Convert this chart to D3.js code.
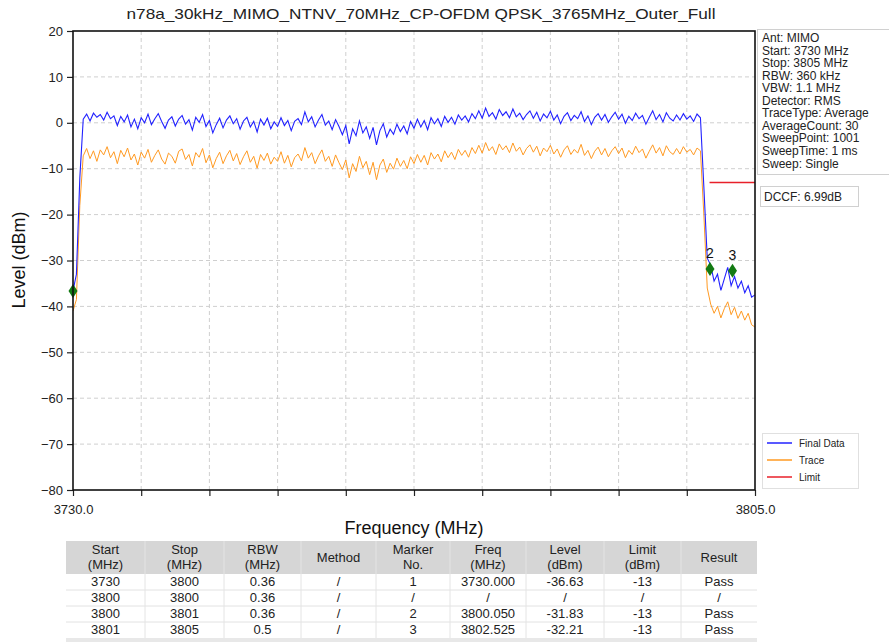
<!DOCTYPE html>
<html><head><meta charset="utf-8">
<script src="https://cdn.jsdelivr.net/npm/d3@7"></script>
<style>body{margin:0;background:#fff}svg{display:block;font-family:"Liberation Sans",Arial,sans-serif}</style>
</head><body><svg id="c" width="889" height="642"></svg>
<script>
const title = "n78a_30kHz_MIMO_NTNV_70MHz_CP-OFDM QPSK_3765MHz_Outer_Full";
const freqStart = 3730, freqStop = 3805, sweepPts = 201;
const yTicks = [20,10,0,-10,-20,-30,-40,-50,-60,-70,-80];
const xTickVals = [3730,3737.5,3745,3752.5,3760,3767.5,3775,3782.5,3790,3797.5,3805];
const xTickLabels = ["3730.0","","","","","","","","","","3805.0"];
const finalData = [-36.6,-33.0,-12.0,0.8,1.9,0.4,2.1,1.2,1.8,0.6,2.3,0.9,1.5,-0.6,1.4,0.2,1.7,-0.9,0.8,-1.3,
1.1,0.0,1.9,-0.4,0.9,2.0,0.3,-1.2,0.6,1.3,-0.7,0.8,1.6,-0.3,0.7,-1.6,1.2,0.1,1.8,-0.8,
0.5,-2.2,-0.4,1.0,-1.1,0.6,1.5,-0.2,0.9,-1.4,0.4,1.2,-0.9,0.3,-2.0,0.8,-0.5,1.0,-1.3,0.2,
-0.8,1.1,-0.6,0.5,-1.7,0.3,0.9,-0.4,2.4,0.2,1.3,-0.9,0.6,1.8,-0.5,0.4,-1.5,0.7,-0.8,-2.6,
-0.6,-4.6,-1.3,-2.8,0.4,-2.2,-0.9,-3.4,-1.0,-4.8,-1.7,-0.2,-3.1,-1.4,-2.5,-0.3,-1.9,-0.7,-2.4,0.3,
-1.2,0.8,-0.9,0.5,-1.5,1.1,-0.2,0.9,-0.8,1.4,0.1,1.2,-0.3,1.7,0.6,1.5,0.2,2.0,0.9,2.6,
1.0,3.2,1.4,2.2,0.8,2.9,1.6,2.4,1.1,3.0,1.3,2.1,0.7,1.8,2.6,1.0,2.3,0.4,1.9,1.1,
2.5,0.6,1.7,-0.2,1.4,2.2,0.5,1.6,0.9,2.4,0.3,1.5,-0.4,1.2,2.0,0.6,1.8,0.1,1.3,2.3,
0.8,1.9,-0.1,1.4,0.5,2.1,0.9,1.6,-0.3,1.2,2.6,0.7,1.8,0.2,2.2,1.0,0.4,1.7,0.6,2.0,
0.8,1.5,0.3,1.9,1.1,-14.0,-29.5,-31.0,-34.5,-33.0,-36.5,-34.0,-31.5,-35.5,-33.5,-36.0,-34.5,-37.0,-35.5,-38.0,
-37.5];
const traceData = [-41.0,-38.5,-18.0,-7.2,-5.6,-7.8,-6.1,-8.4,-5.9,-7.0,-5.2,-7.6,-6.3,-8.9,-6.0,-7.4,-5.5,-8.1,-6.8,-9.2,
-6.4,-7.7,-5.8,-8.6,-7.1,-5.9,-7.9,-9.0,-6.6,-7.3,-8.8,-6.2,-5.7,-8.0,-6.9,-9.4,-6.5,-7.5,-5.6,-8.7,
-7.0,-9.8,-7.8,-6.4,-8.9,-7.2,-6.0,-8.3,-6.7,-9.1,-7.4,-6.1,-8.6,-7.3,-9.9,-6.9,-8.2,-6.6,-9.0,-7.5,
-8.4,-6.3,-8.8,-7.1,-9.6,-7.6,-6.8,-8.3,-5.4,-7.7,-6.5,-8.9,-7.2,-5.9,-8.4,-7.3,-9.5,-7.0,-8.7,-10.2,
-8.1,-12.0,-8.9,-10.6,-7.3,-9.8,-8.4,-11.3,-8.6,-12.4,-9.2,-7.9,-10.8,-8.8,-10.1,-7.7,-9.5,-8.2,-10.0,-7.4,
-8.9,-6.9,-8.6,-7.1,-9.2,-6.5,-7.9,-6.8,-8.5,-6.1,-7.6,-6.4,-8.0,-5.8,-7.1,-6.0,-7.5,-5.4,-6.7,-4.9,
-6.6,-4.3,-6.1,-5.2,-6.9,-4.6,-5.9,-5.0,-6.5,-4.4,-6.2,-5.3,-7.0,-5.6,-4.8,-6.4,-5.1,-7.2,-5.5,-6.3,
-4.9,-6.8,-5.7,-7.5,-5.9,-5.0,-6.9,-5.8,-6.6,-4.7,-7.1,-6.0,-7.8,-6.2,-5.3,-7.0,-5.6,-7.4,-6.1,-5.2,
-6.7,-5.5,-7.6,-6.0,-6.9,-5.1,-6.5,-5.7,-7.7,-6.2,-4.8,-6.6,-5.4,-7.2,-5.0,-6.3,-6.9,-5.6,-6.8,-5.2,
-6.4,-5.8,-7.0,-5.5,-6.1,-20.0,-36.0,-39.5,-41.5,-40.0,-42.5,-40.5,-39.0,-41.8,-40.2,-42.6,-41.0,-43.0,-41.5,-44.0,
-44.5];
const limitFreq = [3800, 3805];
const limitLevel = [-13, -13];
const markerNo = [1, 2, 3];
const markerFreq = [3730.000, 3800.050, 3802.525];
const markerLevel = [-36.63, -31.83, -32.21];
const infoLines = ["Ant: MIMO","Start: 3730 MHz","Stop: 3805 MHz","RBW: 360 kHz","VBW: 1.1 MHz","Detector: RMS","TraceType: Average","AverageCount: 30","SweepPoint: 1001","SweepTime: 1 ms","Sweep: Single"];
const dccfText = "DCCF: 6.99dB";
const legendNames = ["Final Data","Trace","Limit"];
const tableHead = [["Start","(MHz)"],["Stop","(MHz)"],["RBW","(MHz)"],["Method"],["Marker","No."],["Freq","(MHz)"],["Level","(dBm)"],["Limit","(dBm)"],["Result"]];
const tableRows = [
 ["3730","3800","0.36","/","1","3730.000","-36.63","-13","Pass"],
 ["3800","3800","0.36","/","/","/","/","/","/"],
 ["3800","3801","0.36","/","2","3800.050","-31.83","-13","Pass"],
 ["3801","3805","0.5","/","3","3802.525","-32.21","-13","Pass"]];

const colors = {final:"#2222ff", trace:"#ff9a22", limit:"#e8202a", marker:"#137a13"};
const svg = d3.select("#c");
const L=73,R=755,T=31,B=490;
const x = d3.scaleLinear().domain([freqStart,freqStop]).range([L,R]);
const y = d3.scaleLinear().domain([-80,20]).range([B,T]);
const freqs = d3.range(sweepPts).map(i => freqStart + i*(freqStop-freqStart)/(sweepPts-1));

svg.append("text").attr("x",421).attr("y",19).attr("text-anchor","middle")
  .attr("font-size",15).attr("textLength",589).attr("lengthAdjust","spacingAndGlyphs").attr("fill","#222").text(title);

// grid
const g = svg.append("g");
g.selectAll(".hg").data(yTicks.slice(1,-1)).join("line")
  .attr("x1",L).attr("x2",R).attr("y1",d=>y(d)).attr("y2",d=>y(d))
  .attr("stroke","#cfcfcf").attr("stroke-width",1).attr("stroke-dasharray","4,3");
g.selectAll(".vg").data(xTickVals.slice(1,-1)).join("line")
  .attr("x1",d=>x(d)).attr("x2",d=>x(d)).attr("y1",T).attr("y2",B)
  .attr("stroke","#cfcfcf").attr("stroke-width",1).attr("stroke-dasharray","4,3");

// axes
const yAx = svg.append("g").attr("transform",`translate(${L},0)`)
  .call(d3.axisLeft(y).tickValues(yTicks).tickSize(6).tickPadding(4).tickFormat(d=>String(d).replace("-","\u2212")));
const xAx = svg.append("g").attr("transform",`translate(0,${B})`)
  .call(d3.axisBottom(x).tickValues(xTickVals).tickSize(6).tickPadding(4).tickFormat((d,i)=>xTickLabels[i]));
[yAx,xAx].forEach(a=>{a.select(".domain").remove();a.selectAll("line").attr("stroke","#222").attr("stroke-width",1.2);
  a.selectAll("text").attr("font-size",13).attr("fill","#222").attr("font-family","Liberation Sans, Arial, sans-serif");});
xAx.selectAll("text").attr("dy","1.1em");

// clip
svg.append("clipPath").attr("id","pc").append("rect").attr("x",L).attr("y",T).attr("width",R-L).attr("height",B-T);
const plot = svg.append("g").attr("clip-path","url(#pc)");
const line = d3.line().x((d,i)=>x(freqs[i])).y(d=>y(d));
plot.append("path").datum(traceData).attr("d",line).attr("fill","none").attr("stroke",colors.trace).attr("stroke-width",1);
plot.append("path").datum(finalData).attr("d",line).attr("fill","none").attr("stroke",colors.final).attr("stroke-width",1.1);
plot.append("path").datum(limitLevel).attr("d",d3.line().x((d,i)=>x(limitFreq[i])).y(d=>y(d)))
  .attr("fill","none").attr("stroke",colors.limit).attr("stroke-width",1.5);

// markers
const mg = svg.append("g");
markerFreq.forEach((f,i)=>{
  const cx=x(f), cy=y(markerLevel[i]);
  mg.append("path").attr("d",`M${cx},${cy-7}L${cx+4.5},${cy}L${cx},${cy+7}L${cx-4.5},${cy}Z`).attr("fill",colors.marker);
  if(markerNo[i]!==1) mg.append("text").attr("x",cx).attr("y",cy-11).attr("text-anchor","middle")
    .attr("font-size",14).attr("fill","#111").text(markerNo[i]);
});

// frame
svg.append("rect").attr("x",L).attr("y",T).attr("width",R-L).attr("height",B-T)
  .attr("fill","none").attr("stroke","#111").attr("stroke-width",1.6);

// axis titles
svg.append("text").attr("x",414).attr("y",534).attr("text-anchor","middle").attr("font-size",18).attr("fill","#111").text("Frequency (MHz)");
svg.append("text").attr("transform","translate(25,260) rotate(-90)").attr("text-anchor","middle").attr("font-size",18).attr("fill","#111").text("Level (dBm)");

// info box
svg.append("rect").attr("x",757.5).attr("y",29.5).attr("width",140).attr("height",145).attr("fill","#fff").attr("stroke","#d0d0d0");
svg.append("g").selectAll("text").data(infoLines).join("text")
  .attr("x",762).attr("y",(d,i)=>42+i*12.55).attr("font-size",12).attr("fill","#222").text(d=>d);
svg.append("rect").attr("x",760.5).attr("y",186.5).attr("width",98).attr("height",20).attr("fill","#fff").attr("stroke","#d0d0d0");
svg.append("text").attr("x",764).attr("y",201).attr("font-size",12).attr("fill","#222").text(dccfText);

// legend
svg.append("rect").attr("x",762.5).attr("y",433.5).attr("width",96).attr("height",55).attr("fill","#fff").attr("stroke","#e0e0e0");
const lc=[colors.final,colors.trace,colors.limit];
legendNames.forEach((n,i)=>{
  const ly=443+i*17;
  svg.append("line").attr("x1",767).attr("x2",792).attr("y1",ly).attr("y2",ly).attr("stroke",lc[i]).attr("stroke-width",1.5);
  svg.append("text").attr("x",799).attr("y",ly+4).attr("font-size",10).attr("fill","#222").text(n);
});

// table
const colEdges=[66,145,224,301,376,450,526,604,681,757];
const tb=svg.append("g");
tb.append("rect").attr("x",66).attr("y",541).attr("width",691).attr("height",33).attr("fill","#d6d6d6");
const rowY=[582,597.5,614,630];
for(let r=0;r<3;r++) tb.append("line").attr("x1",66).attr("x2",757).attr("y1",590+r*16).attr("y2",590+r*16).attr("stroke","#e2e2e2");
colEdges.slice(1,-1).forEach(e=>tb.append("line").attr("x1",e).attr("x2",e).attr("y1",541).attr("y2",639).attr("stroke","#e4e4e4"));
tb.append("rect").attr("x",66).attr("y",638).attr("width",691).attr("height",4).attr("fill","#e8e8e8");
tableHead.forEach((h,c)=>{
  const cx=(colEdges[c]+colEdges[c+1])/2;
  if(h.length===2){
    tb.append("text").attr("x",cx).attr("y",554).attr("text-anchor","middle").attr("font-size",13).attr("fill","#222").text(h[0]);
    tb.append("text").attr("x",cx).attr("y",569).attr("text-anchor","middle").attr("font-size",13).attr("fill","#222").text(h[1]);
  } else tb.append("text").attr("x",cx).attr("y",562).attr("text-anchor","middle").attr("font-size",13).attr("fill","#222").text(h[0]);
});
tableRows.forEach((row,r)=>row.forEach((v,c)=>{
  const cx=(colEdges[c]+colEdges[c+1])/2;
  tb.append("text").attr("x",cx).attr("y",rowY[r]+4).attr("text-anchor","middle").attr("font-size",13).attr("fill","#222").text(v);
}));
</script></body></html>
